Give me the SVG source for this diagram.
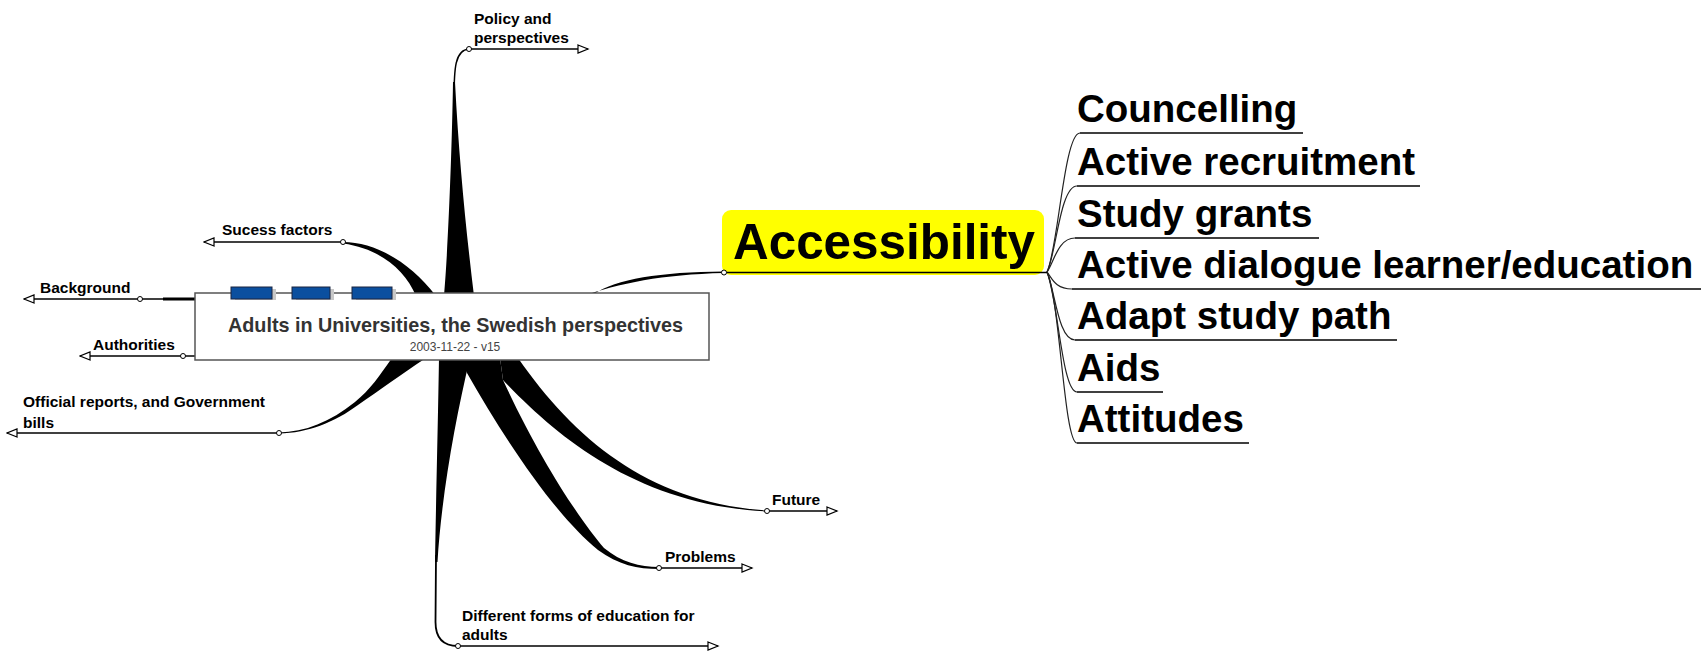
<svg xmlns="http://www.w3.org/2000/svg" width="1706" height="655" viewBox="0 0 1706 655">
<style>
text{font-family:"Liberation Sans",Arial,sans-serif;fill:#000}
.lbl{font-size:15.5px;font-weight:bold}
.big{font-size:38.5px;font-weight:bold}
.ul{stroke:#000;stroke-width:1.5;fill:none}
.arr{marker-end:url(#open)}
.dot{fill:#fff;stroke:#000;stroke-width:1}
.br{fill:#000;stroke:none}
.thin{fill:none;stroke:#000;stroke-width:1.5}
.rc{fill:none;stroke:#222;stroke-width:1.2}
.blue{fill:#0b4f9f;stroke:#1a2540;stroke-width:1}
.sh{fill:#c8c8c8}
</style>
<defs>
<marker id="open" markerUnits="userSpaceOnUse" markerWidth="13" markerHeight="11" viewBox="0 0 13 11" refX="11.5" refY="5.5" orient="auto">
<path d="M1.5,1.5 L11.5,5.5 L1.5,9.5 Z" fill="#fff" stroke="#000" stroke-width="1.2"/>
</marker>
</defs>
<rect width="1706" height="655" fill="#fff"/>
<g id="connectors">
<path class="br" d="M343,242 C375,242 410,262 436,296 L416,296 C405,270 380,248.5 343,243.5 Z"/>
<path class="br" d="M444,296 C448,250 452,150 453,82 L455,82 C459,160 466,230 474,296 Z"/>
<path class="thin" d="M454,100 C454,68 455,50 469,49"/>
<path class="br" d="M580,297 C620,283 662,274.5 724,273 L724,271.5 C660,272 616,279 594,294 Z"/>
<line x1="140" y1="299" x2="163" y2="299" class="thin"/>
<line x1="163" y1="299" x2="197" y2="299" stroke="#000" stroke-width="3"/>
<line x1="183" y1="356" x2="196" y2="356" class="thin"/>
<path class="br" d="M392,358 C380,375 370,390 355,402 C330,422 305,432 279,432.5 L279,433.5 C308,433 335,422 358,405 C380,390 400,375 426,358 Z"/>
<path class="br" d="M439,358 C438,420 436,500 435,562 L437.5,562 C441,500 455,420 470,358 Z"/>
<path fill="none" stroke="#000" stroke-width="1.8" d="M436,555 L435.5,622 Q435.5,646 458,646"/>
<path class="br" d="M467,373 C505,440 555,515 598,550 C618,565 638,569 659,569 L659,567 C640,567 621,562 604,548 C580,520 540,460 503,380 L500,358 L462,358 Z"/>
<path class="br" d="M503,380 C560,440 640,505 767,511.5 L767,510.5 C650,503 575,440 518,358 L500,358 Z"/>
<path class="rc" d="M1047,272 C1058,250 1064,133 1080,133"/>
<path class="rc" d="M1047,272 C1056,255 1060,186 1077,186"/>
<path class="rc" d="M1047,272 C1054,262 1058,238 1075,238"/>
<path class="rc" d="M1047,272 C1052,278 1055,289 1072,289"/>
<path class="rc" d="M1047,272 C1055,290 1058,340 1075,340"/>
<path class="rc" d="M1047,272 C1058,300 1062,392 1077,392"/>
<path class="rc" d="M1047,272 C1060,300 1064,443 1077,443"/>
</g>
<g id="central">
<rect x="195" y="293" width="514" height="67" fill="#fff" stroke="#555" stroke-width="1.5"/>
<rect class="sh" x="235" y="289" width="41" height="11"/>
<rect class="blue" x="231" y="287" width="41" height="12"/>
<rect class="sh" x="296" y="289" width="38" height="11"/>
<rect class="blue" x="292" y="287" width="38" height="12"/>
<rect class="sh" x="356" y="289" width="40" height="11"/>
<rect class="blue" x="352" y="287" width="40" height="12"/>
<text x="455.5" y="332" text-anchor="middle" style="font-size:19.8px;font-weight:bold;fill:#333">Adults in Universities, the Swedish perspectives</text>
<text x="455" y="351" text-anchor="middle" style="font-size:12px;fill:#444">2003-11-22 - v15</text>
</g>
<g id="policy">
<text class="lbl" x="474" y="24">Policy and</text>
<text class="lbl" x="474" y="43">perspectives</text>
<line class="ul arr" x1="469" y1="49" x2="588" y2="49"/>
<circle class="dot" cx="469" cy="49" r="2.5"/>
</g>
<g id="sucess">
<text class="lbl" x="222" y="235">Sucess factors</text>
<line class="ul arr" x1="343" y1="242" x2="204" y2="242"/>
<circle class="dot" cx="343" cy="242" r="2.5"/>
</g>
<g id="background">
<text class="lbl" x="40" y="293">Background</text>
<line class="ul arr" x1="140" y1="299" x2="24" y2="299"/>
<circle class="dot" cx="140" cy="299" r="2.5"/>
</g>
<g id="authorities">
<text class="lbl" x="93" y="350">Authorities</text>
<line class="ul arr" x1="183" y1="356" x2="80" y2="356"/>
<circle class="dot" cx="183" cy="356" r="2.5"/>
</g>
<g id="official">
<text class="lbl" x="23" y="407">Official reports, and Government</text>
<text class="lbl" x="23" y="428">bills</text>
<line class="ul arr" x1="279" y1="433" x2="7" y2="433"/>
<circle class="dot" cx="279" cy="433" r="2.5"/>
</g>
<g id="future">
<text class="lbl" x="772" y="505">Future</text>
<line class="ul arr" x1="767" y1="511" x2="837" y2="511"/>
<circle class="dot" cx="767" cy="511" r="2.5"/>
</g>
<g id="problems">
<text class="lbl" x="665" y="562">Problems</text>
<line class="ul arr" x1="659" y1="568" x2="752" y2="568"/>
<circle class="dot" cx="659" cy="568" r="2.5"/>
</g>
<g id="forms">
<text class="lbl" x="462" y="621">Different forms of education for</text>
<text class="lbl" x="462" y="640">adults</text>
<line class="ul arr" x1="458" y1="646" x2="718" y2="646"/>
<circle class="dot" cx="458" cy="646" r="2.5"/>
</g>
<g id="accessibility">
<rect x="722" y="210" width="322" height="65" rx="9" fill="#ffff00"/>
<text x="733" y="259" style="font-size:49.4px;font-weight:bold">Accessibility</text>
<line class="ul" x1="724" y1="272.5" x2="1047" y2="272.5"/>
<circle class="dot" cx="724" cy="272.5" r="2.5"/>
</g>
<g id="councelling">
<text class="big" x="1077" y="122">Councelling</text>
<line class="ul" x1="1080" y1="133" x2="1303" y2="133"/>
</g>
<g id="recruitment">
<text class="big" x="1077" y="175">Active recruitment</text>
<line class="ul" x1="1077" y1="186" x2="1420" y2="186"/>
</g>
<g id="grants">
<text class="big" x="1077" y="227">Study grants</text>
<line class="ul" x1="1075" y1="238" x2="1319" y2="238"/>
</g>
<g id="dialogue">
<text class="big" x="1077" y="278">Active dialogue learner/education</text>
<line class="ul" x1="1072" y1="289" x2="1701" y2="289"/>
</g>
<g id="adapt">
<text class="big" x="1077" y="329">Adapt study path</text>
<line class="ul" x1="1075" y1="340" x2="1397" y2="340"/>
</g>
<g id="aids">
<text class="big" x="1077" y="381">Aids</text>
<line class="ul" x1="1077" y1="392" x2="1163" y2="392"/>
</g>
<g id="attitudes">
<text class="big" x="1077" y="432">Attitudes</text>
<line class="ul" x1="1077" y1="443" x2="1249" y2="443"/>
</g>
</svg>
